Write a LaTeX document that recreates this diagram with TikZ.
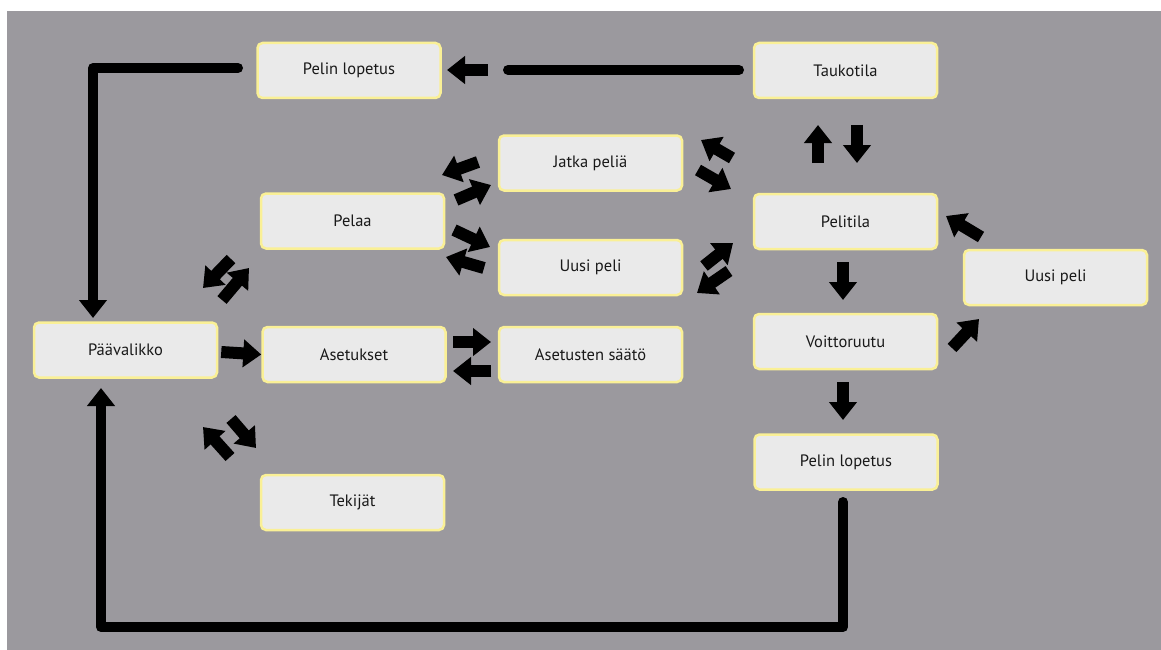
\documentclass[tikz,border=0pt]{standalone}
\usepackage{fontspec}
\setmainfont{PT Sans}
\usetikzlibrary{arrows.meta}
\definecolor{bg}{RGB}{155,153,158}
\definecolor{boxfill}{RGB}{234,234,234}
\definecolor{boxline}{RGB}{250,240,150}
\definecolor{txt}{RGB}{25,25,25}
\begin{document}
\begin{tikzpicture}[x=1pt,y=-1pt,
  box/.style={draw=boxline, line width=2.5pt, fill=boxfill, rounded corners=5pt,
    minimum width=183pt, minimum height=55pt, inner sep=0pt, text=txt,
    font=\fontsize{16.5}{20}\selectfont},
  blk/.style={line width=12pt, -{Triangle[width=27pt,length=18pt]}},
  wire/.style={line width=10pt, line cap=round, line join=round},
  wirearr/.style={line width=10pt, line cap=round, line join=round, -{Triangle[width=27pt,length=18pt]}}]
\useasboundingbox (0,0) rectangle (1161,650);
\fill[white] (0,0) rectangle (1161,650);
\fill[bg] (7,11) rectangle (1161,650);

% boxes
\node[box] (plTop)   at (349,70.5)    {Pelin lopetus};
\node[box] (tauko)   at (845.5,70.5)  {Taukotila};
\node[box] (jatka)   at (590.5,163)   {Jatka peliä};
\node[box] (uusiM)   at (590.5,267.5) {Uusi peli};
\node[box] (pelaa)   at (352.5,221)   {Pelaa};
\node[box] (pelitila) at (845.5,221.5) {Pelitila};
\node[box] (voitto)  at (845.5,341.5) {Voittoruutu};
\node[box] (uusiR)   at (1055.5,277.5) {Uusi peli};
\node[box] (plBot)   at (846,462)     {Pelin lopetus};
\node[box] (paa)     at (125.5,350)   {Päävalikko};
\node[box] (aset)    at (354,354.5)   {Asetukset};
\node[box] (saato)   at (590.5,354.5) {Asetusten säätö};
\node[box] (tekijat) at (352.5,502.5) {Tekijät};

% coordinates for connector ends
\coordinate (w1a) at (739,70);  \coordinate (w1b) at (508,70);
\coordinate (a1a) at (488,70);  \coordinate (a1b) at (447,70);
\coordinate (w2a) at (238,68);  \coordinate (w2c) at (93,68);  \coordinate (w2b) at (93,318);
\coordinate (w3a) at (843,502); \coordinate (w3c) at (843,627); \coordinate (w3d) at (101,627); \coordinate (w3b) at (101,388);

% long wires
\draw[wire] (w1a) -- (w1b);
\draw[blk] (a1a) -- (a1b);
\draw[wirearr] (w2a) -- (w2c) -- (w2b);
\draw[wirearr] (w3a) -- (w3c) -- (w3d) -- (w3b);

% Paavalikko -> Asetukset
\draw[blk] (paa.east) ++(3,2) coordinate (p1) -- (aset.west) coordinate (p2);
% Asetukset <-> Asetusten saato
\draw[blk] (453,342) coordinate (q1) -- (491,342) coordinate (q2);
\draw[blk] (491,371) coordinate (q3) -- (453,371) coordinate (q4);

% Paavalikko <-> Pelaa
\draw[blk] (231,259) coordinate (r1) -- (203,288) coordinate (r2);
\draw[blk] (222,300) coordinate (r3) -- (249,268) coordinate (r4);
% Paavalikko <-> Tekijat
\draw[blk] (230,457) coordinate (s1) -- (203,427) coordinate (s2);
\draw[blk] (231,419) coordinate (s3) -- (256,448) coordinate (s4);

% Pelaa <-> Jatka
\draw[blk] (478,162) coordinate (t1) -- (442,175) coordinate (t2);
\draw[blk] (456,200) coordinate (t3) -- (491,185) coordinate (t4);
% Pelaa <-> Uusi peli
\draw[blk] (454,230) coordinate (u1) -- (490,247) coordinate (u2);
\draw[blk] (484,268) coordinate (u3) -- (446,257) coordinate (u4);

% Jatka <-> Pelitila
\draw[blk] (732,158) coordinate (v1) -- (701,140) coordinate (v2);
\draw[blk] (698,170) coordinate (v3) -- (731,189) coordinate (v4);
% Uusi peli <-> Pelitila
\draw[blk] (704,266) coordinate (x1) -- (733,243) coordinate (x2);
\draw[blk] (729,271) coordinate (x3) -- (697,293) coordinate (x4);

% Taukotila <-> Pelitila
\draw[blk] (818,163) coordinate (y1) -- (818,125) coordinate (y2);
\draw[blk] (857,125) coordinate (y3) -- (857,163) coordinate (y4);
% Pelitila -> Voittoruutu -> Pelin lopetus
\draw[blk] (843,262) coordinate (z1) -- (843,300) coordinate (z2);
\draw[blk] (843,382) coordinate (z3) -- (843,420) coordinate (z4);
% Voittoruutu -> Uusi peli -> Pelitila
\draw[blk] (952,348) coordinate (k1) -- (979,319) coordinate (k2);
\draw[blk] (981,237) coordinate (k3) -- (946,216) coordinate (k4);
\end{tikzpicture}
\end{document}
